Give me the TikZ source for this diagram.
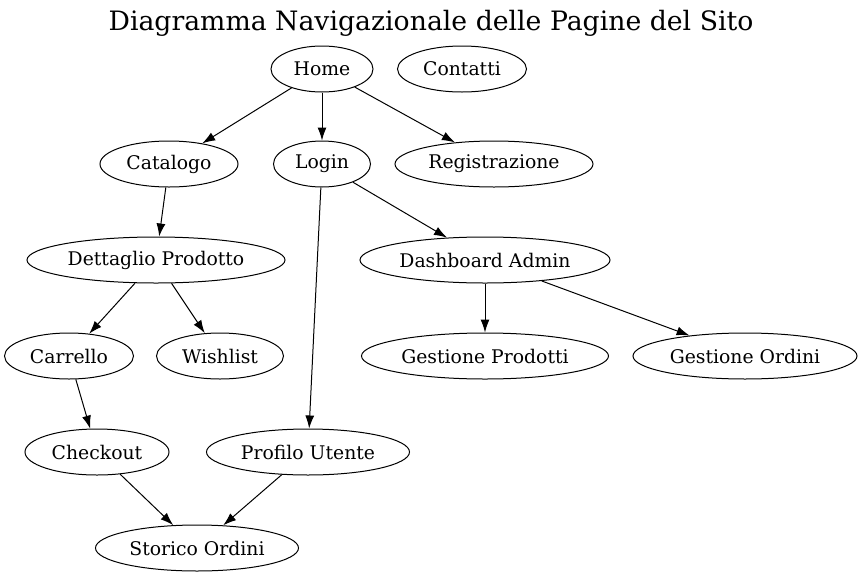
\documentclass[tikz,border=0pt]{standalone}
\usepackage{fontspec}
\setmainfont{DejaVu Serif}
\usetikzlibrary{shapes.geometric,arrows.meta}
\begin{document}
\begin{tikzpicture}[x=1pt,y=-1pt,
  nd/.style={ellipse,draw,line width=1pt,minimum height=46pt,inner sep=0pt,font=\fontsize{18.8}{21}\selectfont},
  ed/.style={line width=1pt,-{Latex[length=13pt,width=9pt]}}]
\useasboundingbox (0,0) rectangle (863,579);
\node[font=\fontsize{26.7}{30}\selectfont] (title) at (431,23) {Diagramma Navigazionale delle Pagine del Sito};
\node[nd,minimum width=102pt] (home) at (322,69) {Home};
\node[nd,minimum width=129pt] (contatti) at (462,69) {Contatti};
\node[nd,minimum width=138pt] (catalogo) at (169,164) {Catalogo};
\node[nd,minimum width=97pt] (login) at (322,164) {Login};
\node[nd,minimum width=198pt] (reg) at (494,164) {Registrazione};
\node[nd,minimum width=258pt] (dett) at (156,260) {Dettaglio Prodotto};
\node[nd,minimum width=250pt] (dash) at (485,260) {Dashboard Admin};
\node[nd,minimum width=129pt] (carrello) at (69,356) {Carrello};
\node[nd,minimum width=127pt] (wish) at (220,356) {Wishlist};
\node[nd,minimum width=247pt] (gprod) at (485,356) {Gestione Prodotti};
\node[nd,minimum width=224pt] (gord) at (745,356) {Gestione Ordini};
\node[nd,minimum width=144pt] (checkout) at (97,452) {Checkout};
\node[nd,minimum width=203pt] (profilo) at (308,452) {Profilo Utente};
\node[nd,minimum width=203pt] (storico) at (197,548) {Storico Ordini};
\draw[ed] (home) -- (catalogo);
\draw[ed] (home) -- (login);
\draw[ed] (home) -- (reg);
\draw[ed] (catalogo) -- (dett);
\draw[ed] (login) -- (dash);
\draw[ed] (login) -- (profilo);
\draw[ed] (dett) -- (carrello);
\draw[ed] (dett) -- (wish);
\draw[ed] (dash) -- (gprod);
\draw[ed] (dash) -- (gord);
\draw[ed] (carrello) -- (checkout);
\draw[ed] (checkout) -- (storico);
\draw[ed] (profilo) -- (storico);
\end{tikzpicture}
\end{document}
